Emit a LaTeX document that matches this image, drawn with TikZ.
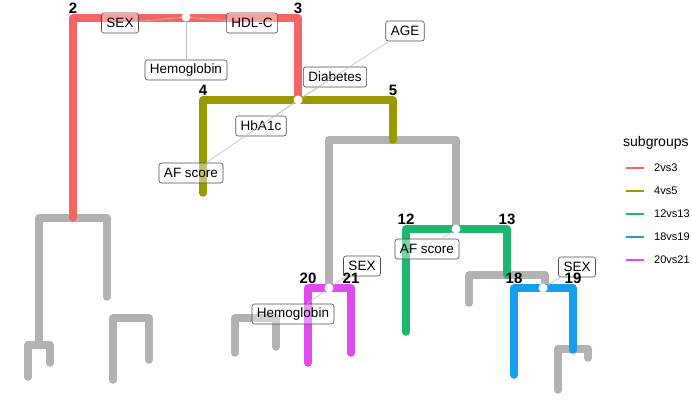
\documentclass[tikz,border=0pt]{standalone}
\usepackage{fontspec}
\setmainfont{Liberation Sans}
\usetikzlibrary{positioning}
\definecolor{grpA}{RGB}{246,100,100}
\definecolor{grpB}{RGB}{153,153,0}
\definecolor{grpC}{RGB}{28,184,110}
\definecolor{grpD}{RGB}{22,158,240}
\definecolor{grpE}{RGB}{226,74,240}
\definecolor{treegray}{RGB}{178,178,178}
\tikzset{
  branch/.style   = {line width=7.5bp, line cap=round, line join=round},
  splitdot/.style = {circle, fill=white, inner sep=0pt, minimum size=9bp},
  varlbl/.style   = {draw=black!70, rounded corners=2.5bp, fill=white, fill opacity=0.4,
                     text opacity=1, line width=0.6bp, inner xsep=5bp, inner ysep=0pt,
                     minimum height=20bp, font=\fontsize{13.5bp}{16bp}\selectfont},
  link/.style     = {draw=black!25, line width=0.6bp},
  numlbl/.style   = {anchor=base, inner sep=0pt, font=\fontsize{15bp}{18bp}\selectfont\bfseries},
  keyline/.style  = {line width=1.2bp},
}

\begin{document}
\begin{tikzpicture}[x=1bp, y=-1bp]
  \useasboundingbox (0,0) rectangle (692,408);
  % gray branches
  \foreach \p in {{(39,345) -- (39,218) -- (107,218) -- (107,297)},
                  {(28,377) -- (28,345) -- (50,345) -- (50,363)},
                  {(113,380) -- (113,318) -- (149,318) -- (149,360)},
                  {(329,288) -- (329,140) -- (456,140) -- (456,229)},
                  {(235,353) -- (235,318) -- (276,318) -- (276,347)},
                  {(469,303) -- (469,275) -- (545,275) -- (545,288)},
                  {(558,390) -- (558,349) -- (588,349) -- (588,358)}} {
    \draw[branch, treegray] \p;
  }
  % subgroup branches
  \draw[branch, grpA] (73,218) -- (73,18) -- (298,18) -- (298,100);
  \draw[branch, grpB] (203,193) -- (203,100) -- (393,100) -- (393,140);
  \draw[branch, grpC] (406,332) -- (406,229) -- (507,229) -- (507,275);
  \draw[branch, grpE] (308,363) -- (308,288) -- (351,288) -- (351,353);
  \draw[branch, grpD] (514,375) -- (514,288) -- (573,288) -- (573,350);
  % split points
  \foreach \n/\x/\y in {s1/186/17, s2/298/100, s3/456/229, s4/329/288, s5/543/288} {
    \node[splitdot] (\n) at (\x,\y) {};
  }
  % split variables
  \node[varlbl] (sex1)  at (120,23)  {SEX};
  \node[varlbl] (hdl)   at (252,23)  {HDL-C};
  \node[varlbl] (hgb1)  at (186,70)  {Hemoglobin};
  \node[varlbl] (diab)  at (335,77)  {Diabetes};
  \node[varlbl] (age)   at (405,31)  {AGE};
  \node[varlbl] (hba)   at (261,126) {HbA1c};
  \node[varlbl] (af1)   at (191,173) {AF score};
  \node[varlbl] (af2)   at (427,249) {AF score};
  \node[varlbl] (sex2)  at (362,266) {SEX};
  \node[varlbl] (hgb2)  at (293,314) {Hemoglobin};
  \node[varlbl] (sex3)  at (577,267) {SEX};
  \foreach \a/\b in {s1/sex1, s1/hdl, s1/hgb1, s2/diab, s2/age, s2/hba, s2/af1,
                     s3/af2, s4/sex2, s4/hgb2, s5/sex3} {
    \draw[link] (\a) -- (\b);
  }
  % node numbers
  \foreach \k/\x/\y in {2/73/13, 3/298/13, 4/203/95, 5/393/95, 12/406/224, 13/507/224,
                        20/308/283, 21/351/283, 18/514/283, 19/573/283} {
    \node[numlbl] (n\k) at (\x,\y) {\k};
  }
  % legend
  \node[anchor=west, inner sep=0pt, font=\fontsize{14bp}{16bp}\selectfont] (legtitle) at (623,143) {subgroups};
  \foreach \c/\t/\y in {grpA/2vs3/168, grpB/4vs5/191, grpC/12vs13/214, grpD/18vs19/237, grpE/20vs21/260} {
    \draw[keyline, \c] (626,\y) -- (644,\y);
    \node[anchor=west, inner sep=0pt, font=\fontsize{11bp}{13bp}\selectfont] (key\t) at (654,\y) {\t};
  }
\end{tikzpicture}
\end{document}
